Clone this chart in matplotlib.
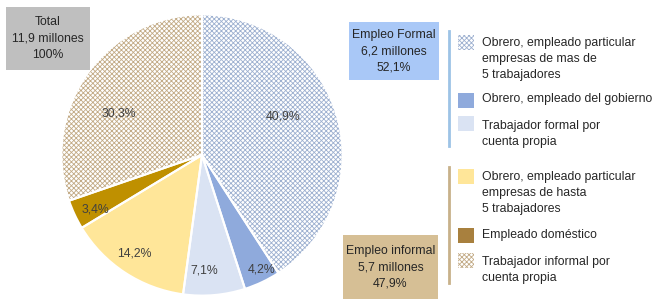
import matplotlib
matplotlib.use("Agg")
import matplotlib.pyplot as plt
import numpy as np
from matplotlib.patches import Rectangle
from matplotlib.lines import Line2D

plt.rcParams['font.family'] = ['Liberation Sans', 'DejaVu Sans']
plt.rcParams['hatch.linewidth'] = 0.6

# datos
categorias = ["Obrero, empleado particular\nempresas de mas de\n5 trabajadores",
              "Obrero, empleado del gobierno",
              "Trabajador formal por\ncuenta propia",
              "Obrero, empleado particular\nempresas de hasta\n5 trabajadores",
              "Empleado doméstico",
              "Trabajador informal por\ncuenta propia"]
porcentajes = [40.9, 4.2, 7.1, 14.2, 3.4, 30.3]
etiquetas = ["40,9%", "4,2%", "7,1%", "14,2%", "3,4%", "30,3%"]
total_txt = "Total\n11,9 millones\n100%"
formal_txt = "Empleo Formal\n6,2 millones\n52,1%"
informal_txt = "Empleo informal\n5,7 millones\n47,9%"

colores = ['white', '#8faadc', '#dae3f3', '#ffe699', '#bf9000', 'white']
colores_leyenda = ['white', '#8faadc', '#dae3f3', '#ffe699', '#a8803e', 'white']
tramas = ['xxxxxxx', None, None, None, None, 'xxxxxxx']
color_trama = ['#9db0d0', None, None, None, None, '#c2aa85']
dist_etiqueta = [0.64, 0.92, 0.82, 0.85, 0.85, 0.66]
giro_etiqueta = [9, 2, -4, -1, 2, 9]

W, H = 654, 301
fig = plt.figure(figsize=(W / 100, H / 100), dpi=100)
txt = '#404040'

def fx(x):
    return x / W

def fy(y):
    return 1 - y / H

# pie
ax = fig.add_axes([fx(60), fy(297), 284 / W, 284 / H])
wedges, _ = ax.pie(porcentajes, colors=colores, startangle=90, counterclock=False,
                   wedgeprops=dict(linewidth=0))
for w, h, hc in zip(wedges, tramas, color_trama):
    if h:
        w.set_hatch(h)
        w.set_edgecolor(hc)
        w.set_linewidth(0)
# separadores blancos
ax.pie(porcentajes, startangle=90, counterclock=False,
       wedgeprops=dict(fill=False, edgecolor='white', linewidth=1.5))

for w, lab, d, g in zip(wedges, etiquetas, dist_etiqueta, giro_etiqueta):
    ang = np.deg2rad((w.theta1 + w.theta2) / 2 + g)
    ax.text(d * np.cos(ang), d * np.sin(ang), lab, ha='center', va='center',
            fontsize=8.8, color=txt)
ax.set_xlim(-1.01, 1.01)
ax.set_ylim(-1.01, 1.01)

# cajas
def caja(x0, y0, x1, y1, color, texto):
    fig.patches.append(Rectangle((fx(x0), fy(y1)), fx(x1) - fx(x0), fy(y0) - fy(y1),
                                 transform=fig.transFigure, facecolor=color,
                                 edgecolor='none', zorder=0))
    fig.text(fx((x0 + x1) / 2), fy((y0 + y1) / 2), texto, ha='center', va='center',
             fontsize=8.8, color='#262626', linespacing=1.45)

caja(6, 7, 90, 70, '#bfbfbf', total_txt)
caja(349, 22, 439, 80, '#a9c8f7', formal_txt)
caja(343, 235, 438, 299, '#d6bf95', informal_txt)

# lineas verticales
fig.add_artist(Line2D([fx(449), fx(449)], [fy(31), fy(146)], color='#9dc3e6', linewidth=2))
fig.add_artist(Line2D([fx(449), fx(449)], [fy(167), fy(283)], color='#c8b18a', linewidth=2))

# leyenda
parche_y = [35, 93, 116, 169, 228, 253]
texto_y = [37, 93, 120, 171, 229, 256]
for i, cat in enumerate(categorias):
    y0 = parche_y[i]
    r = Rectangle((fx(458), fy(y0 + 15)), 16 / W, 15 / H, transform=fig.transFigure,
                  facecolor=colores_leyenda[i], edgecolor=color_trama[i] or 'none',
                  linewidth=0, hatch=tramas[i])
    fig.patches.append(r)
    fig.text(fx(482), fy(texto_y[i]), cat, ha='left', va='top', fontsize=8.8,
             color='#262626', linespacing=1.45)

fig.savefig('out.png', dpi=100)
